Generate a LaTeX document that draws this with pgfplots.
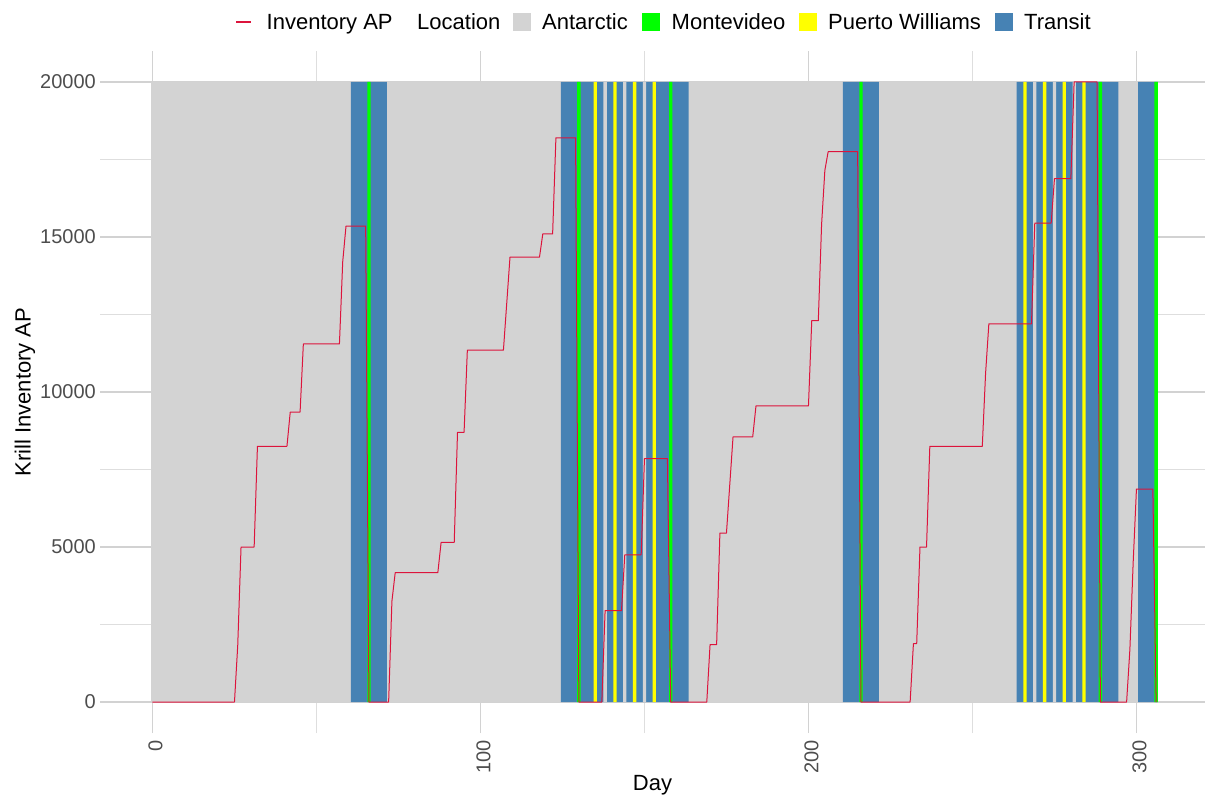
\documentclass[border=0pt]{standalone}
\usepackage{fontspec}
\setmainfont{Liberation Sans}
\usepackage{pgfplots}
\pgfplotsset{compat=1.18}
\definecolor{locAnt}{HTML}{D3D3D3}
\definecolor{locMon}{HTML}{00FF00}
\definecolor{locPW}{HTML}{FFFF00}
\definecolor{locTr}{HTML}{4682B4}
\definecolor{invRed}{HTML}{DC143C}
\definecolor{gridM}{HTML}{D2D2D2}
\definecolor{gridm}{HTML}{DEDEDE}
\definecolor{tickC}{HTML}{4D4D4D}
\begin{document}
\begin{tikzpicture}
\useasboundingbox (0,0) rectangle (1206pt,796pt);
\begin{axis}[
    at={(100pt,63pt)}, anchor=south west,
    scale only axis, width=1105pt, height=682pt,
    xmin=-16, xmax=320.9, ymin=-1000, ymax=21000,
    axis line style={draw=none},
    major tick length=0pt, minor tick length=0pt,
    xtick={0,100,200,300}, minor xtick={50,150,250},
    ytick={0,5000,10000,15000,20000}, minor ytick={2500,7500,12500,17500},
    scaled y ticks=false,
    xmajorgrids, xminorgrids, ymajorgrids, yminorgrids,
    major grid style={gridM, line width=1.1pt},
    minor grid style={gridm, line width=0.7pt},
    /pgf/number format/1000 sep={},
    /pgf/number format/assume math mode=true,
    ticklabel style={font=\fontsize{20}{24}\selectfont, text=tickC},
    yticklabel style={anchor=east, inner sep=0pt, xshift=-4pt},
    xticklabel style={anchor=east, inner sep=0pt, yshift=-7pt, xshift=3pt, rotate=90},
    xlabel={Day}, ylabel={Krill Inventory AP},
    xlabel style={font=\fontsize{22}{26}\selectfont, at={(axis description cs:0.5,-0.085)}, anchor=base},
    ylabel style={font=\fontsize{22}{26}\selectfont, at={(axis description cs:-0.068,0.5)}, anchor=center},
    unbounded coords=jump,
  ]
  % location tiles (day k covers k-0.5 .. k+0.5)
  \addplot[fill=locAnt, draw=none] coordinates {
    (-0.5,0) (-0.5,20000) (306.5,20000) (306.5,0)};
  \addplot[fill=locTr, draw=none] coordinates {
    (60.5,0) (60.5,20000) (71.5,20000) (71.5,0) (nan,nan)
    (124.5,0) (124.5,20000) (163.5,20000) (163.5,0) (nan,nan)
    (210.5,0) (210.5,20000) (221.5,20000) (221.5,0) (nan,nan)
    (263.5,0) (263.5,20000) (294.5,20000) (294.5,0) (nan,nan)
    (300.5,0) (300.5,20000) (306.5,20000) (306.5,0)};
  \addplot[fill=locAnt, draw=none] coordinates {
    (137.5,0) (137.5,20000) (138.5,20000) (138.5,0) (nan,nan)
    (143.5,0) (143.5,20000) (144.5,20000) (144.5,0) (nan,nan)
    (149.5,0) (149.5,20000) (150.5,20000) (150.5,0) (nan,nan)
    (268.5,0) (268.5,20000) (269.5,20000) (269.5,0) (nan,nan)
    (274.5,0) (274.5,20000) (275.5,20000) (275.5,0) (nan,nan)
    (280.5,0) (280.5,20000) (281.5,20000) (281.5,0)};
  \addplot[fill=locPW, draw=none] coordinates {
    (134.5,0) (134.5,20000) (135.5,20000) (135.5,0) (nan,nan)
    (140.5,0) (140.5,20000) (141.5,20000) (141.5,0) (nan,nan)
    (146.5,0) (146.5,20000) (147.5,20000) (147.5,0) (nan,nan)
    (152.5,0) (152.5,20000) (153.5,20000) (153.5,0) (nan,nan)
    (265.5,0) (265.5,20000) (266.5,20000) (266.5,0) (nan,nan)
    (271.5,0) (271.5,20000) (272.5,20000) (272.5,0) (nan,nan)
    (277.5,0) (277.5,20000) (278.5,20000) (278.5,0) (nan,nan)
    (283.5,0) (283.5,20000) (284.5,20000) (284.5,0)};
  \addplot[fill=locMon, draw=none] coordinates {
    (65.5,0) (65.5,20000) (66.5,20000) (66.5,0) (nan,nan)
    (129.5,0) (129.5,20000) (130.5,20000) (130.5,0) (nan,nan)
    (157.5,0) (157.5,20000) (158.5,20000) (158.5,0) (nan,nan)
    (215.5,0) (215.5,20000) (216.5,20000) (216.5,0) (nan,nan)
    (288.5,0) (288.5,20000) (289.5,20000) (289.5,0) (nan,nan)
    (305.5,0) (305.5,20000) (306.5,20000) (306.5,0)};
  % inventory
  \addplot[invRed, line width=1pt, line join=round] coordinates {
    (0,0) (25,0) (26,1840) (27,5000) (31,5000) (32,8250) (41,8250) (42,9350)
    (45,9350) (46,11550) (57,11550) (58,14200) (59,15350) (65,15350) (66,0)
    (72,0) (73,3250) (74,4170) (87,4170) (88,5150) (92,5150) (93,8700)
    (95,8700) (96,11350) (107,11350) (109,14350) (118,14350) (119,15100)
    (122,15100) (123,18200) (129,18200) (130,0) (137,0) (138,2950)
    (143,2950) (144,4750) (149,4750) (150,7850) (157,7850) (158,0)
    (169,0) (170,1850) (172,1850) (173,5450) (175,5450) (177,8550)
    (183,8550) (184,9550) (200,9550) (201,12300) (203,12300) (204,15400)
    (205,17150) (206,17750) (215,17750) (216,0) (231,0) (232,1880)
    (233,1880) (234,5000) (236,5000) (237,8250) (253,8250) (254,10600)
    (255,12200) (268,12200) (269,15450) (274,15450) (275,16880)
    (280,16880) (281,20000) (288,20000) (289,0) (297,0) (298,1700)
    (299,4500) (300,6870) (305,6870) (306,0)};
\end{axis}
% legend
\begin{scope}[every node/.style={font=\fontsize{22}{26}\selectfont, inner sep=0pt, anchor=base west}]
  \draw[invRed, line width=1.2pt] (236pt,774pt) -- (251pt,774pt);
  \node at (266.5pt,766pt) {Inventory AP};
  \node at (417pt,766pt) {Location};
  \fill[locAnt] (512.5pt,765pt) rectangle (530.5pt,783pt);
  \node at (542pt,766pt) {Antarctic};
  \fill[locMon] (642pt,765pt) rectangle (660pt,783pt);
  \node at (671.5pt,766pt) {Montevideo};
  \fill[locPW] (799pt,765pt) rectangle (817pt,783pt);
  \node at (828pt,766pt) {Puerto Williams};
  \fill[locTr] (995pt,765pt) rectangle (1013pt,783pt);
  \node at (1024pt,766pt) {Transit};
\end{scope}
\end{tikzpicture}
\end{document}
